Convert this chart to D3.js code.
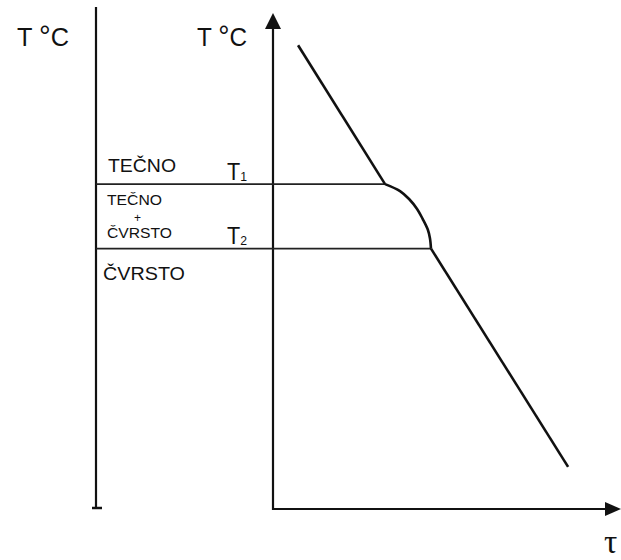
<!DOCTYPE html>
<html><head><meta charset="utf-8">
<script src="https://cdn.jsdelivr.net/npm/d3@7"></script>
<style>body{margin:0;background:#fff}svg{display:block}</style>
</head><body>
<script>
// ---- data (time in arbitrary units, temperature in arbitrary units) ----
const timeDomain = [0, 100];
const tempDomain = [0, 100];
const T1 = 65.5;            // liquidus temperature
const T2 = 52.5;            // solidus temperature
const coolTime = [7.2, 32.2, 36.5, 39.1, 41.4, 43.0, 44.5, 45.1, 45.4, 84.8];
const coolTemp = [93.5, 65.5, 64.1, 62.5, 60.5, 58.5, 56.3, 54.6, 52.5, 8.5];
const regionLabels = ["TEČNO", "TEČNO", "+", "ČVRSTO", "ČVRSTO"];
const levelLabels = ["T", "T"];
const levelSubs = ["1", "2"];
const axisTitles = ["T ", "°", "C", "τ"];

const W = 621, H = 560;
const svg = d3.select("body").append("svg").attr("width", W).attr("height", H);

const x = d3.scaleLinear().domain(timeDomain).range([273, 621]);
const y = d3.scaleLinear().domain(tempDomain).range([509, 13]);
const leftX = 96;
const font = "Liberation Sans, Arial, sans-serif";

// left reference column line
svg.append("line").attr("x1", leftX).attr("x2", leftX).attr("y1", 7).attr("y2", 508)
  .attr("stroke", "#111").attr("stroke-width", 2.2);
svg.append("line").attr("x1", leftX - 4).attr("x2", leftX + 6).attr("y1", 508).attr("y2", 508)
  .attr("stroke", "#111").attr("stroke-width", 2.5);

// axes
svg.append("line").attr("x1", x(0)).attr("x2", x(0)).attr("y1", y(0) + 1).attr("y2", y(100) + 14)
  .attr("stroke", "#111").attr("stroke-width", 2.2);
svg.append("line").attr("x1", x(0) - 1).attr("x2", x(100) - 12).attr("y1", y(0)).attr("y2", y(0))
  .attr("stroke", "#111").attr("stroke-width", 2.2);
// arrow heads
svg.append("path").attr("d", `M${x(0)},${y(100)} L${x(0) - 8},${y(100) + 16} L${x(0) + 8},${y(100) + 16} Z`)
  .attr("fill", "#111");
svg.append("path").attr("d", `M${x(100)},${y(0)} L${x(100) - 16},${y(0) - 7} L${x(100) - 16},${y(0) + 7} Z`)
  .attr("fill", "#111");

// level lines T1, T2 (from left column to cooling curve)
const levels = [T1, T2];
const levelEnds = [coolTime[1], coolTime[8]];
levels.forEach((t, i) => {
  svg.append("line").attr("x1", leftX).attr("x2", x(levelEnds[i])).attr("y1", y(t)).attr("y2", y(t))
    .attr("stroke", "#222").attr("stroke-width", 1.6);
});

// cooling curve
const pts = coolTime.map((t, i) => [t, coolTemp[i]]);
const line = d3.line().x(d => x(d[0])).y(d => y(d[1])).curve(d3.curveLinear);
svg.append("path").datum(pts.slice(0, 2)).attr("d", line)
  .attr("fill", "none").attr("stroke", "#111").attr("stroke-width", 2.6);
svg.append("path").datum(pts.slice(1, 9)).attr("d", d3.line().x(d => x(d[0])).y(d => y(d[1])).curve(d3.curveCatmullRom))
  .attr("fill", "none").attr("stroke", "#111").attr("stroke-width", 2.6);
svg.append("path").datum(pts.slice(8)).attr("d", line)
  .attr("fill", "none").attr("stroke", "#111").attr("stroke-width", 2.6);

// text helper
const txt = (s, px, py, fs, tl, fam) => {
  const t = svg.append("text").attr("x", px).attr("y", py).attr("font-family", fam || font)
    .attr("font-size", fs).attr("fill", "#111").text(s);
  if (tl) t.attr("textLength", tl).attr("lengthAdjust", "spacingAndGlyphs");
  return t;
};

// axis titles "T °C" as one text each
[[17, 52], [197, 50]].forEach(([tx, len]) => {
  const t = svg.append("text").attr("x", tx).attr("y", 46).attr("font-family", font).attr("font-size", 26)
    .attr("fill", "#111").attr("textLength", len).attr("lengthAdjust", "spacingAndGlyphs");
  t.append("tspan").text(axisTitles[0]);
  t.append("tspan").attr("font-size", 30).text(axisTitles[1]);
  t.append("tspan").text(axisTitles[2]);
});
txt(axisTitles[3], 604, 553, 33, null, "Liberation Serif, serif");

// region labels
txt(regionLabels[0], 108, 172, 18, 68);
txt(regionLabels[1], 107, 205, 14, 55);
txt(regionLabels[2], 134, 222, 12);
txt(regionLabels[3], 107, 238, 14, 65);
txt(regionLabels[4], 103, 280, 18, 82);

// level labels
levels.forEach((t, i) => {
  const by = y(t) - (i === 0 ? 4 : 5);
  const g = svg.append("text").attr("x", 227).attr("y", by).attr("font-family", font)
    .attr("font-size", 23).attr("fill", "#111").attr("textLength", 20).attr("lengthAdjust", "spacingAndGlyphs");
  g.append("tspan").text(levelLabels[i]);
  g.append("tspan").attr("font-size", 13).attr("dy", 1).text(levelSubs[i]);
});
</script>
</body></html>
